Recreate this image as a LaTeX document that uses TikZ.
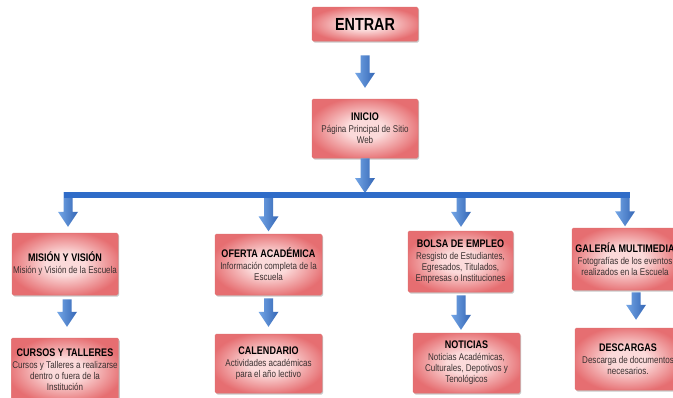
\documentclass[tikz,border=0pt]{standalone}
\usepackage{fontspec}
\setmainfont{Liberation Sans}[FakeStretch=0.82]
\usetikzlibrary{calc,shadows}
\definecolor{boxout}{HTML}{E66E71}
\definecolor{boxin}{HTML}{FBDADA}
\definecolor{boxline}{HTML}{E07070}
\definecolor{desctext}{HTML}{3A3030}
\definecolor{arrL}{HTML}{74A6E6}
\definecolor{arrR}{HTML}{3466B5}
\definecolor{barcol}{HTML}{2F6CC8}
\pgfdeclareradialshading{boxshade}{\pgfpoint{0bp}{0bp}}{color(0bp)=(boxin); color(9bp)=(boxin); color(27bp)=(boxout); color(50bp)=(boxout)}
\newcommand{\ttl}[1]{{\fontsize{11}{12.5}\selectfont\bfseries\color{black}#1}}
\newcommand{\barrow}[2]{%
  \path[arrowstyle] let \p1=#1, \p2=#2 in
   ({\x2-4.5pt},{\y1}) -- ({\x2+4.5pt},{\y1}) -- ({\x2+4.5pt},{\y2+15pt}) -- ({\x2+10pt},{\y2+15pt})
   -- (\x2,\y2) -- ({\x2-10pt},{\y2+15pt}) -- ({\x2-4.5pt},{\y2+15pt}) -- cycle;}
\begin{document}
\begin{tikzpicture}[x=1pt,y=-1pt,
  box/.style={draw=boxline, line width=0.5pt, rounded corners=1.5pt, shading=boxshade,
    drop shadow={shadow xshift=1.2pt, shadow yshift=-1.5pt, opacity=0.3, fill=black!70},
    align=center, inner sep=1pt, minimum width=106pt,
    font=\fontsize{9.8}{11}\selectfont\color{desctext}},
  arrowstyle/.style={left color=arrL, right color=arrR}]
\useasboundingbox (0,0) rectangle (673,397);
\fill[white] (0,0) rectangle (673,397);

\node[box, minimum height=34pt] (entrar) at (365,24) {{\fontsize{17.5}{20}\selectfont\bfseries\color{black}ENTRAR}};
\node[box, minimum height=59pt] (inicio) at (365,128.5) {\ttl{INICIO}\\[1pt]Página Principal de Sitio\\Web};

\node[box, minimum height=62pt] (mision) at (65,264) {\ttl{MISIÓN Y VISIÓN}\\[1pt]Misión y Visión de la Escuela};
\node[box, minimum height=64pt] (cursos) at (65,370) {\ttl{CURSOS Y TALLERES}\\[1pt]Cursos y Talleres a realizarse\\dentro o fuera de la\\Institución};
\node[box, minimum width=107pt, minimum height=61pt] (oferta) at (268.5,264.5) {\ttl{OFERTA ACADÉMICA}\\[1pt]Información completa de la\\Escuela};
\node[box, minimum width=107pt, minimum height=59pt] (calend) at (268.5,363.5) {\ttl{CALENDARIO}\\[1pt]Actividades académicas\\para el año lectivo};
\node[box, minimum width=105pt, minimum height=61pt] (bolsa) at (460.5,261.5) {\ttl{BOLSA DE EMPLEO}\\[1pt]Resgisto de Estudiantes,\\Egresados, Titulados,\\Empresas o Instituciones};
\node[box, minimum width=107pt, minimum height=60pt] (noticias) at (466.5,363) {\ttl{NOTICIAS}\\[1pt]Noticias Académicas,\\Culturales, Depotivos y\\Tenológicos};
\node[box, minimum height=62pt] (galeria) at (625,259) {\ttl{GALERÍA MULTIMEDIA}\\[1pt]Fotografías de los eventos\\realizados en la Escuela};
\node[box, minimum height=62pt] (descargas) at (628,359) {\ttl{DESCARGAS}\\[1pt]Descarga de documentos\\necesarios.};

% hub bar
\coordinate (barL) at (63.5,192);
\coordinate (barR) at (629.5,197.5);
\coordinate (hub) at (365,192);

\barrow{($(entrar.south)+(0,14)$)}{($(inicio.north)+(0,-11)$)}
\barrow{(inicio.south)}{($(hub)+(0,1)$)}

\barrow{(barL)}{($(mision.north)+(3,-6)$)}
\barrow{(hub)}{($(oferta.north)+(0,-2.5)$)}
\barrow{(hub)}{($(bolsa.north)+(0.5,-4)$)}
\barrow{(barR)}{($(galeria.north)+(0,-1.5)$)}
\fill[barcol] (barL) rectangle (barR);

\barrow{($(mision.south)+(0,4)$)}{($(cursos.north)+(2,-11)$)}
\barrow{($(oferta.south)+(0,3)$)}{($(calend.north)+(0,-7)$)}
\barrow{($(bolsa.south)+(0,3)$)}{($(noticias.north)+(-5.5,-3)$)}
\barrow{($(galeria.south)+(0,2)$)}{($(descargas.north)+(8,-8)$)}
\end{tikzpicture}
\end{document}
